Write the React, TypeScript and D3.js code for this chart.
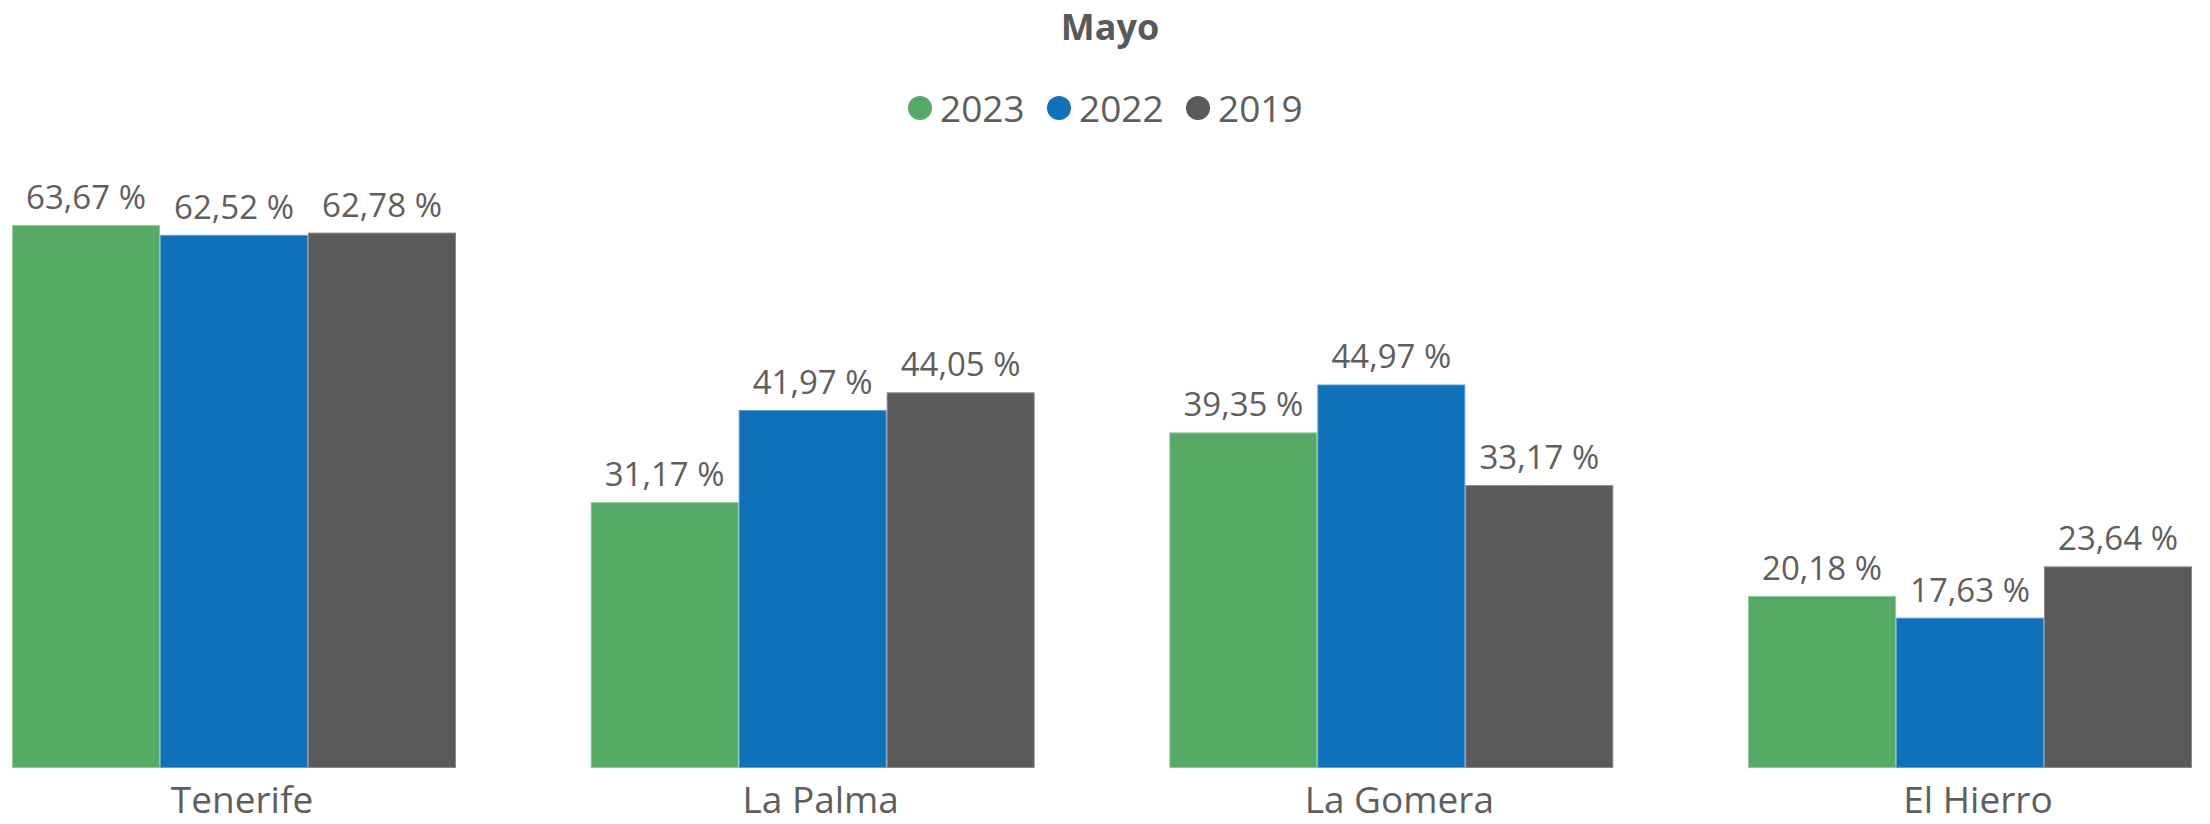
import React from "react";
import * as d3 from "d3";

const title = "Mayo";
const categories = ["Tenerife", "La Palma", "La Gomera", "El Hierro"];
const seriesNames = ["2023", "2022", "2019"];
const values2023 = [63.67, 31.17, 39.35, 20.18];
const values2022 = [62.52, 41.97, 44.97, 17.63];
const values2019 = [62.78, 44.05, 33.17, 23.64];
const colors = ["#55AB66", "#0F71B8", "#5A5A5A"];
const strokes = ["#8FCB9A", "#5FA3D8", "#8A8A8A"];

const W = 2210;
const H = 824;
const FONT = "'Open Sans', 'Noto Sans', sans-serif";
const TEXT = "#605E5C";

export default function App() {
  const series = [values2023, values2022, values2019];
  const x0 = d3.scaleBand<string>().domain(categories).range([12, 2192]).paddingInner(0.2327).paddingOuter(0);
  const x1 = d3.scaleBand<string>().domain(seriesNames).range([0, x0.bandwidth()]).padding(0);
  const y = d3.scaleLinear().domain([0, 70]).range([768, 171]);
  const fmt = (v: number) => d3.format(".2f")(v).replace(".", ",") + " %";

  return (
    <svg width={W} height={H} style={{ position: "absolute", left: 0, top: 0, background: "#fff" }}>
      <text x={1110} y={40} textAnchor="middle" fontFamily={FONT} fontWeight={700} fontSize={36} fill="#595959">
        {title}
      </text>
      {seriesNames.map((s, i) => (
        <g key={s}>
          <circle cx={920 + i * 139} cy={108} r={12} fill={colors[i]} />
          <text x={940 + i * 139} y={122} fontFamily={FONT} fontSize={37} fill={TEXT}>
            {s}
          </text>
        </g>
      ))}
      {categories.map((c, ci) => (
        <g key={c} transform={`translate(${x0(c)},0)`}>
          {seriesNames.map((s, si) => {
            const v = series[si][ci];
            const bx = x1(s)!;
            const bw = x1.bandwidth();
            return (
              <g key={s}>
                <rect x={bx + 0.5} y={y(v) + 0.5} width={bw - 1} height={y(0) - y(v) - 1} fill={colors[si]} stroke={strokes[si]} strokeWidth={1} />
                <text x={bx + bw / 2} y={y(v) - 16} textAnchor="middle" fontFamily={FONT} fontSize={33} fill={TEXT}>
                  {fmt(v)}
                </text>
              </g>
            );
          })}
          <text x={x0.bandwidth() / 2 + 8} y={813} textAnchor="middle" fontFamily={FONT} fontSize={37} fill={TEXT}>
            {c}
          </text>
        </g>
      ))}
    </svg>
  );
}
